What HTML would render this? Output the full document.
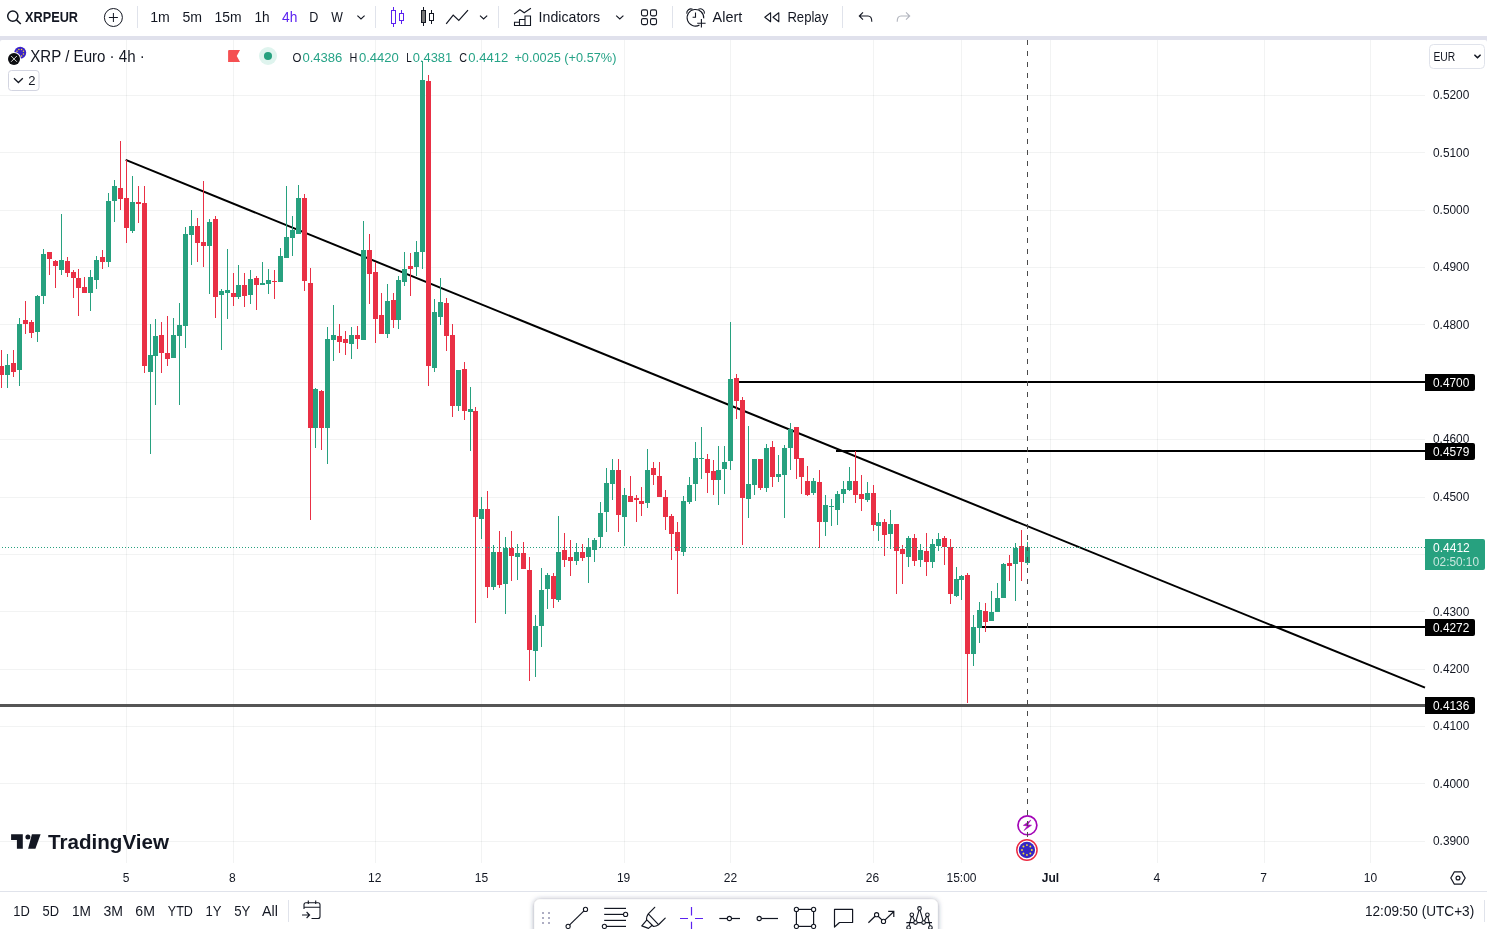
<!DOCTYPE html>
<html lang="en"><head><meta charset="utf-8"><title>XRPEUR chart</title>
<style>
html,body{margin:0;padding:0;background:#fff;}
body{width:1487px;height:929px;overflow:hidden;position:relative;font-family:"Liberation Sans", sans-serif;}
svg{position:absolute;left:0;top:0;display:block;font-family:"Liberation Sans", sans-serif;}
text{white-space:pre;}
</style></head><body>
<svg width="1487" height="929" viewBox="0 0 1487 929">
<g shape-rendering="crispEdges">
<rect x="126" y="40" width="1" height="823" fill="rgba(42,46,57,0.06)"/>
<rect x="233" y="40" width="1" height="823" fill="rgba(42,46,57,0.06)"/>
<rect x="375" y="40" width="1" height="823" fill="rgba(42,46,57,0.06)"/>
<rect x="481" y="40" width="1" height="823" fill="rgba(42,46,57,0.06)"/>
<rect x="624" y="40" width="1" height="823" fill="rgba(42,46,57,0.06)"/>
<rect x="730" y="40" width="1" height="823" fill="rgba(42,46,57,0.06)"/>
<rect x="873" y="40" width="1" height="823" fill="rgba(42,46,57,0.06)"/>
<rect x="961" y="40" width="1" height="823" fill="rgba(42,46,57,0.06)"/>
<rect x="1050" y="40" width="1" height="823" fill="rgba(42,46,57,0.06)"/>
<rect x="1157" y="40" width="1" height="823" fill="rgba(42,46,57,0.06)"/>
<rect x="1264" y="40" width="1" height="823" fill="rgba(42,46,57,0.06)"/>
<rect x="1370" y="40" width="1" height="823" fill="rgba(42,46,57,0.06)"/>
<rect x="0" y="95" width="1425" height="1" fill="rgba(42,46,57,0.06)"/>
<rect x="0" y="152" width="1425" height="1" fill="rgba(42,46,57,0.06)"/>
<rect x="0" y="210" width="1425" height="1" fill="rgba(42,46,57,0.06)"/>
<rect x="0" y="267" width="1425" height="1" fill="rgba(42,46,57,0.06)"/>
<rect x="0" y="324" width="1425" height="1" fill="rgba(42,46,57,0.06)"/>
<rect x="0" y="382" width="1425" height="1" fill="rgba(42,46,57,0.06)"/>
<rect x="0" y="439" width="1425" height="1" fill="rgba(42,46,57,0.06)"/>
<rect x="0" y="497" width="1425" height="1" fill="rgba(42,46,57,0.06)"/>
<rect x="0" y="554" width="1425" height="1" fill="rgba(42,46,57,0.06)"/>
<rect x="0" y="611" width="1425" height="1" fill="rgba(42,46,57,0.06)"/>
<rect x="0" y="669" width="1425" height="1" fill="rgba(42,46,57,0.06)"/>
<rect x="0" y="726" width="1425" height="1" fill="rgba(42,46,57,0.06)"/>
<rect x="0" y="783" width="1425" height="1" fill="rgba(42,46,57,0.06)"/>
<rect x="0" y="841" width="1425" height="1" fill="rgba(42,46,57,0.06)"/>
</g>
<g shape-rendering="crispEdges">
<rect x="0" y="704" width="1425" height="3" fill="#555555"/>
</g>
<g shape-rendering="crispEdges" fill="#000">
<rect x="739" y="381" width="686" height="2"/>
<rect x="836" y="450" width="589" height="2"/>
<rect x="981" y="626" width="444" height="2"/>
</g>
<line x1="125.7" y1="159.9" x2="1425" y2="687.6" stroke="#000" stroke-width="2"/>
<g shape-rendering="crispEdges">
<rect x="1" y="350" width="1" height="38" fill="#e93045"/>
<rect x="-1" y="366" width="5" height="9" fill="#e93045"/>
<rect x="7" y="354" width="1" height="34" fill="#27a17f"/>
<rect x="5" y="365" width="5" height="10" fill="#27a17f"/>
<rect x="13" y="350" width="1" height="27" fill="#e93045"/>
<rect x="11" y="363" width="5" height="9" fill="#e93045"/>
<rect x="19" y="318" width="1" height="68" fill="#27a17f"/>
<rect x="17" y="324" width="5" height="46" fill="#27a17f"/>
<rect x="25" y="301" width="1" height="33" fill="#e93045"/>
<rect x="23" y="320" width="5" height="4" fill="#e93045"/>
<rect x="31" y="320" width="1" height="18" fill="#e93045"/>
<rect x="29" y="322" width="5" height="11" fill="#e93045"/>
<rect x="37" y="295" width="1" height="47" fill="#27a17f"/>
<rect x="35" y="296" width="5" height="36" fill="#27a17f"/>
<rect x="43" y="249" width="1" height="55" fill="#27a17f"/>
<rect x="41" y="254" width="5" height="42" fill="#27a17f"/>
<rect x="49" y="252" width="1" height="23" fill="#e93045"/>
<rect x="47" y="252" width="5" height="7" fill="#e93045"/>
<rect x="55" y="260" width="1" height="28" fill="#e93045"/>
<rect x="53" y="261" width="5" height="5" fill="#e93045"/>
<rect x="61" y="214" width="1" height="61" fill="#27a17f"/>
<rect x="59" y="260" width="5" height="10" fill="#27a17f"/>
<rect x="67" y="257" width="1" height="20" fill="#e93045"/>
<rect x="65" y="261" width="5" height="12" fill="#e93045"/>
<rect x="73" y="270" width="1" height="28" fill="#e93045"/>
<rect x="71" y="272" width="5" height="6" fill="#e93045"/>
<rect x="78" y="269" width="1" height="47" fill="#e93045"/>
<rect x="76" y="278" width="5" height="10" fill="#e93045"/>
<rect x="84" y="277" width="1" height="16" fill="#e93045"/>
<rect x="82" y="287" width="5" height="6" fill="#e93045"/>
<rect x="90" y="270" width="1" height="41" fill="#27a17f"/>
<rect x="88" y="277" width="5" height="16" fill="#27a17f"/>
<rect x="96" y="256" width="1" height="33" fill="#27a17f"/>
<rect x="94" y="260" width="5" height="20" fill="#27a17f"/>
<rect x="102" y="250" width="1" height="19" fill="#e93045"/>
<rect x="100" y="257" width="5" height="5" fill="#e93045"/>
<rect x="108" y="193" width="1" height="74" fill="#27a17f"/>
<rect x="106" y="201" width="5" height="61" fill="#27a17f"/>
<rect x="114" y="180" width="1" height="42" fill="#27a17f"/>
<rect x="112" y="186" width="5" height="15" fill="#27a17f"/>
<rect x="120" y="141" width="1" height="69" fill="#e93045"/>
<rect x="118" y="188" width="5" height="11" fill="#e93045"/>
<rect x="126" y="160" width="1" height="83" fill="#e93045"/>
<rect x="124" y="198" width="5" height="30" fill="#e93045"/>
<rect x="132" y="176" width="1" height="57" fill="#27a17f"/>
<rect x="130" y="202" width="5" height="29" fill="#27a17f"/>
<rect x="138" y="186" width="1" height="37" fill="#e93045"/>
<rect x="136" y="202" width="5" height="2" fill="#e93045"/>
<rect x="144" y="186" width="1" height="187" fill="#e93045"/>
<rect x="142" y="203" width="5" height="163" fill="#e93045"/>
<rect x="150" y="324" width="1" height="130" fill="#27a17f"/>
<rect x="148" y="355" width="5" height="17" fill="#27a17f"/>
<rect x="155" y="319" width="1" height="86" fill="#27a17f"/>
<rect x="153" y="336" width="5" height="20" fill="#27a17f"/>
<rect x="161" y="322" width="1" height="51" fill="#e93045"/>
<rect x="159" y="335" width="5" height="18" fill="#e93045"/>
<rect x="167" y="316" width="1" height="50" fill="#e93045"/>
<rect x="165" y="353" width="5" height="6" fill="#e93045"/>
<rect x="173" y="318" width="1" height="40" fill="#27a17f"/>
<rect x="171" y="335" width="5" height="23" fill="#27a17f"/>
<rect x="179" y="303" width="1" height="102" fill="#27a17f"/>
<rect x="177" y="325" width="5" height="11" fill="#27a17f"/>
<rect x="185" y="227" width="1" height="121" fill="#27a17f"/>
<rect x="183" y="234" width="5" height="92" fill="#27a17f"/>
<rect x="191" y="210" width="1" height="55" fill="#27a17f"/>
<rect x="189" y="226" width="5" height="9" fill="#27a17f"/>
<rect x="197" y="218" width="1" height="44" fill="#e93045"/>
<rect x="195" y="226" width="5" height="17" fill="#e93045"/>
<rect x="203" y="181" width="1" height="86" fill="#e93045"/>
<rect x="201" y="242" width="5" height="4" fill="#e93045"/>
<rect x="209" y="219" width="1" height="75" fill="#27a17f"/>
<rect x="207" y="222" width="5" height="24" fill="#27a17f"/>
<rect x="215" y="216" width="1" height="102" fill="#e93045"/>
<rect x="213" y="219" width="5" height="78" fill="#e93045"/>
<rect x="221" y="289" width="1" height="61" fill="#27a17f"/>
<rect x="219" y="291" width="5" height="4" fill="#27a17f"/>
<rect x="227" y="249" width="1" height="70" fill="#27a17f"/>
<rect x="225" y="290" width="5" height="3" fill="#27a17f"/>
<rect x="233" y="273" width="1" height="33" fill="#e93045"/>
<rect x="231" y="293" width="5" height="4" fill="#e93045"/>
<rect x="238" y="265" width="1" height="34" fill="#27a17f"/>
<rect x="236" y="285" width="5" height="12" fill="#27a17f"/>
<rect x="244" y="273" width="1" height="34" fill="#e93045"/>
<rect x="242" y="285" width="5" height="11" fill="#e93045"/>
<rect x="250" y="270" width="1" height="34" fill="#27a17f"/>
<rect x="248" y="279" width="5" height="16" fill="#27a17f"/>
<rect x="256" y="276" width="1" height="34" fill="#e93045"/>
<rect x="254" y="278" width="5" height="7" fill="#e93045"/>
<rect x="262" y="262" width="1" height="23" fill="#27a17f"/>
<rect x="260" y="283" width="5" height="2" fill="#27a17f"/>
<rect x="268" y="269" width="1" height="25" fill="#27a17f"/>
<rect x="266" y="280" width="5" height="4" fill="#27a17f"/>
<rect x="274" y="270" width="1" height="29" fill="#e93045"/>
<rect x="272" y="281" width="5" height="1" fill="#e93045"/>
<rect x="280" y="248" width="1" height="34" fill="#27a17f"/>
<rect x="278" y="256" width="5" height="26" fill="#27a17f"/>
<rect x="286" y="186" width="1" height="72" fill="#27a17f"/>
<rect x="284" y="237" width="5" height="21" fill="#27a17f"/>
<rect x="292" y="216" width="1" height="40" fill="#27a17f"/>
<rect x="290" y="230" width="5" height="8" fill="#27a17f"/>
<rect x="298" y="185" width="1" height="49" fill="#27a17f"/>
<rect x="296" y="198" width="5" height="36" fill="#27a17f"/>
<rect x="304" y="194" width="1" height="97" fill="#e93045"/>
<rect x="302" y="198" width="5" height="83" fill="#e93045"/>
<rect x="310" y="268" width="1" height="252" fill="#e93045"/>
<rect x="308" y="283" width="5" height="145" fill="#e93045"/>
<rect x="315" y="388" width="1" height="60" fill="#27a17f"/>
<rect x="313" y="389" width="5" height="39" fill="#27a17f"/>
<rect x="321" y="390" width="1" height="60" fill="#e93045"/>
<rect x="319" y="391" width="5" height="37" fill="#e93045"/>
<rect x="327" y="327" width="1" height="137" fill="#27a17f"/>
<rect x="325" y="339" width="5" height="89" fill="#27a17f"/>
<rect x="333" y="305" width="1" height="56" fill="#27a17f"/>
<rect x="331" y="335" width="5" height="5" fill="#27a17f"/>
<rect x="339" y="324" width="1" height="29" fill="#e93045"/>
<rect x="337" y="336" width="5" height="6" fill="#e93045"/>
<rect x="345" y="331" width="1" height="24" fill="#e93045"/>
<rect x="343" y="339" width="5" height="4" fill="#e93045"/>
<rect x="351" y="327" width="1" height="32" fill="#27a17f"/>
<rect x="349" y="335" width="5" height="9" fill="#27a17f"/>
<rect x="357" y="326" width="1" height="23" fill="#e93045"/>
<rect x="355" y="335" width="5" height="4" fill="#e93045"/>
<rect x="363" y="221" width="1" height="119" fill="#27a17f"/>
<rect x="361" y="250" width="5" height="90" fill="#27a17f"/>
<rect x="369" y="234" width="1" height="70" fill="#e93045"/>
<rect x="367" y="250" width="5" height="24" fill="#e93045"/>
<rect x="375" y="262" width="1" height="81" fill="#e93045"/>
<rect x="373" y="272" width="5" height="47" fill="#e93045"/>
<rect x="381" y="293" width="1" height="41" fill="#e93045"/>
<rect x="379" y="315" width="5" height="19" fill="#e93045"/>
<rect x="387" y="284" width="1" height="54" fill="#27a17f"/>
<rect x="385" y="301" width="5" height="33" fill="#27a17f"/>
<rect x="393" y="293" width="1" height="35" fill="#e93045"/>
<rect x="391" y="300" width="5" height="20" fill="#e93045"/>
<rect x="398" y="276" width="1" height="53" fill="#27a17f"/>
<rect x="396" y="280" width="5" height="40" fill="#27a17f"/>
<rect x="404" y="252" width="1" height="34" fill="#27a17f"/>
<rect x="402" y="269" width="5" height="13" fill="#27a17f"/>
<rect x="410" y="253" width="1" height="43" fill="#e93045"/>
<rect x="408" y="266" width="5" height="3" fill="#e93045"/>
<rect x="416" y="241" width="1" height="35" fill="#27a17f"/>
<rect x="414" y="252" width="5" height="15" fill="#27a17f"/>
<rect x="422" y="61" width="1" height="208" fill="#27a17f"/>
<rect x="420" y="80" width="5" height="172" fill="#27a17f"/>
<rect x="428" y="75" width="1" height="311" fill="#e93045"/>
<rect x="426" y="81" width="5" height="285" fill="#e93045"/>
<rect x="434" y="299" width="1" height="73" fill="#27a17f"/>
<rect x="432" y="312" width="5" height="56" fill="#27a17f"/>
<rect x="440" y="278" width="1" height="47" fill="#27a17f"/>
<rect x="438" y="302" width="5" height="15" fill="#27a17f"/>
<rect x="446" y="298" width="1" height="53" fill="#e93045"/>
<rect x="444" y="303" width="5" height="33" fill="#e93045"/>
<rect x="452" y="324" width="1" height="93" fill="#e93045"/>
<rect x="450" y="335" width="5" height="71" fill="#e93045"/>
<rect x="458" y="370" width="1" height="41" fill="#27a17f"/>
<rect x="456" y="370" width="5" height="36" fill="#27a17f"/>
<rect x="464" y="362" width="1" height="58" fill="#e93045"/>
<rect x="462" y="369" width="5" height="42" fill="#e93045"/>
<rect x="470" y="387" width="1" height="64" fill="#27a17f"/>
<rect x="468" y="409" width="5" height="3" fill="#27a17f"/>
<rect x="475" y="407" width="1" height="216" fill="#e93045"/>
<rect x="473" y="411" width="5" height="106" fill="#e93045"/>
<rect x="481" y="497" width="1" height="42" fill="#27a17f"/>
<rect x="479" y="509" width="5" height="10" fill="#27a17f"/>
<rect x="487" y="491" width="1" height="107" fill="#e93045"/>
<rect x="485" y="509" width="5" height="78" fill="#e93045"/>
<rect x="493" y="545" width="1" height="45" fill="#27a17f"/>
<rect x="491" y="552" width="5" height="35" fill="#27a17f"/>
<rect x="499" y="531" width="1" height="57" fill="#e93045"/>
<rect x="497" y="552" width="5" height="33" fill="#e93045"/>
<rect x="505" y="537" width="1" height="77" fill="#27a17f"/>
<rect x="503" y="548" width="5" height="36" fill="#27a17f"/>
<rect x="511" y="531" width="1" height="50" fill="#e93045"/>
<rect x="509" y="548" width="5" height="8" fill="#e93045"/>
<rect x="517" y="544" width="1" height="36" fill="#27a17f"/>
<rect x="515" y="553" width="5" height="4" fill="#27a17f"/>
<rect x="523" y="542" width="1" height="27" fill="#e93045"/>
<rect x="521" y="553" width="5" height="16" fill="#e93045"/>
<rect x="529" y="557" width="1" height="124" fill="#e93045"/>
<rect x="527" y="570" width="5" height="80" fill="#e93045"/>
<rect x="535" y="615" width="1" height="62" fill="#27a17f"/>
<rect x="533" y="626" width="5" height="25" fill="#27a17f"/>
<rect x="541" y="568" width="1" height="79" fill="#27a17f"/>
<rect x="539" y="590" width="5" height="36" fill="#27a17f"/>
<rect x="547" y="573" width="1" height="36" fill="#27a17f"/>
<rect x="545" y="575" width="5" height="14" fill="#27a17f"/>
<rect x="553" y="573" width="1" height="35" fill="#e93045"/>
<rect x="551" y="576" width="5" height="23" fill="#e93045"/>
<rect x="558" y="516" width="1" height="86" fill="#27a17f"/>
<rect x="556" y="552" width="5" height="48" fill="#27a17f"/>
<rect x="564" y="533" width="1" height="34" fill="#e93045"/>
<rect x="562" y="550" width="5" height="10" fill="#e93045"/>
<rect x="570" y="540" width="1" height="36" fill="#e93045"/>
<rect x="568" y="557" width="5" height="4" fill="#e93045"/>
<rect x="576" y="543" width="1" height="22" fill="#27a17f"/>
<rect x="574" y="552" width="5" height="9" fill="#27a17f"/>
<rect x="582" y="544" width="1" height="17" fill="#e93045"/>
<rect x="580" y="552" width="5" height="6" fill="#e93045"/>
<rect x="588" y="538" width="1" height="45" fill="#27a17f"/>
<rect x="586" y="547" width="5" height="10" fill="#27a17f"/>
<rect x="594" y="538" width="1" height="24" fill="#27a17f"/>
<rect x="592" y="540" width="5" height="10" fill="#27a17f"/>
<rect x="600" y="502" width="1" height="46" fill="#27a17f"/>
<rect x="598" y="513" width="5" height="24" fill="#27a17f"/>
<rect x="606" y="468" width="1" height="64" fill="#27a17f"/>
<rect x="604" y="483" width="5" height="29" fill="#27a17f"/>
<rect x="612" y="459" width="1" height="41" fill="#27a17f"/>
<rect x="610" y="470" width="5" height="14" fill="#27a17f"/>
<rect x="618" y="459" width="1" height="73" fill="#e93045"/>
<rect x="616" y="470" width="5" height="45" fill="#e93045"/>
<rect x="624" y="488" width="1" height="58" fill="#27a17f"/>
<rect x="622" y="495" width="5" height="22" fill="#27a17f"/>
<rect x="630" y="476" width="1" height="26" fill="#e93045"/>
<rect x="628" y="496" width="5" height="6" fill="#e93045"/>
<rect x="636" y="495" width="1" height="27" fill="#e93045"/>
<rect x="634" y="498" width="5" height="2" fill="#e93045"/>
<rect x="641" y="487" width="1" height="29" fill="#e93045"/>
<rect x="639" y="501" width="5" height="3" fill="#e93045"/>
<rect x="647" y="449" width="1" height="59" fill="#27a17f"/>
<rect x="645" y="470" width="5" height="33" fill="#27a17f"/>
<rect x="653" y="462" width="1" height="23" fill="#e93045"/>
<rect x="651" y="468" width="5" height="7" fill="#e93045"/>
<rect x="659" y="462" width="1" height="35" fill="#e93045"/>
<rect x="657" y="476" width="5" height="21" fill="#e93045"/>
<rect x="665" y="490" width="1" height="40" fill="#e93045"/>
<rect x="663" y="497" width="5" height="20" fill="#e93045"/>
<rect x="671" y="514" width="1" height="46" fill="#e93045"/>
<rect x="669" y="516" width="5" height="18" fill="#e93045"/>
<rect x="677" y="522" width="1" height="72" fill="#e93045"/>
<rect x="675" y="532" width="5" height="19" fill="#e93045"/>
<rect x="683" y="496" width="1" height="60" fill="#27a17f"/>
<rect x="681" y="501" width="5" height="51" fill="#27a17f"/>
<rect x="689" y="477" width="1" height="27" fill="#27a17f"/>
<rect x="687" y="485" width="5" height="17" fill="#27a17f"/>
<rect x="695" y="442" width="1" height="59" fill="#27a17f"/>
<rect x="693" y="458" width="5" height="26" fill="#27a17f"/>
<rect x="701" y="427" width="1" height="52" fill="#27a17f"/>
<rect x="699" y="458" width="5" height="1" fill="#27a17f"/>
<rect x="707" y="454" width="1" height="39" fill="#e93045"/>
<rect x="705" y="459" width="5" height="14" fill="#e93045"/>
<rect x="713" y="460" width="1" height="35" fill="#e93045"/>
<rect x="711" y="471" width="5" height="9" fill="#e93045"/>
<rect x="718" y="446" width="1" height="59" fill="#27a17f"/>
<rect x="716" y="470" width="5" height="10" fill="#27a17f"/>
<rect x="724" y="446" width="1" height="48" fill="#27a17f"/>
<rect x="722" y="462" width="5" height="7" fill="#27a17f"/>
<rect x="730" y="322" width="1" height="148" fill="#27a17f"/>
<rect x="728" y="379" width="5" height="82" fill="#27a17f"/>
<rect x="736" y="374" width="1" height="45" fill="#e93045"/>
<rect x="734" y="378" width="5" height="23" fill="#e93045"/>
<rect x="742" y="397" width="1" height="148" fill="#e93045"/>
<rect x="740" y="400" width="5" height="98" fill="#e93045"/>
<rect x="748" y="426" width="1" height="92" fill="#27a17f"/>
<rect x="746" y="484" width="5" height="15" fill="#27a17f"/>
<rect x="754" y="459" width="1" height="36" fill="#27a17f"/>
<rect x="752" y="459" width="5" height="26" fill="#27a17f"/>
<rect x="760" y="459" width="1" height="31" fill="#e93045"/>
<rect x="758" y="459" width="5" height="29" fill="#e93045"/>
<rect x="766" y="444" width="1" height="48" fill="#27a17f"/>
<rect x="764" y="448" width="5" height="40" fill="#27a17f"/>
<rect x="772" y="441" width="1" height="46" fill="#e93045"/>
<rect x="770" y="447" width="5" height="30" fill="#e93045"/>
<rect x="778" y="455" width="1" height="27" fill="#27a17f"/>
<rect x="776" y="474" width="5" height="3" fill="#27a17f"/>
<rect x="784" y="445" width="1" height="73" fill="#27a17f"/>
<rect x="782" y="448" width="5" height="27" fill="#27a17f"/>
<rect x="790" y="423" width="1" height="47" fill="#27a17f"/>
<rect x="788" y="429" width="5" height="19" fill="#27a17f"/>
<rect x="796" y="427" width="1" height="52" fill="#e93045"/>
<rect x="794" y="427" width="5" height="32" fill="#e93045"/>
<rect x="801" y="458" width="1" height="36" fill="#e93045"/>
<rect x="799" y="458" width="5" height="19" fill="#e93045"/>
<rect x="807" y="466" width="1" height="30" fill="#e93045"/>
<rect x="805" y="481" width="5" height="14" fill="#e93045"/>
<rect x="813" y="478" width="1" height="17" fill="#27a17f"/>
<rect x="811" y="481" width="5" height="12" fill="#27a17f"/>
<rect x="819" y="470" width="1" height="78" fill="#e93045"/>
<rect x="817" y="482" width="5" height="40" fill="#e93045"/>
<rect x="825" y="495" width="1" height="41" fill="#27a17f"/>
<rect x="823" y="505" width="5" height="17" fill="#27a17f"/>
<rect x="831" y="499" width="1" height="27" fill="#27a17f"/>
<rect x="829" y="506" width="5" height="1" fill="#27a17f"/>
<rect x="837" y="491" width="1" height="34" fill="#27a17f"/>
<rect x="835" y="494" width="5" height="16" fill="#27a17f"/>
<rect x="843" y="481" width="1" height="22" fill="#27a17f"/>
<rect x="841" y="489" width="5" height="5" fill="#27a17f"/>
<rect x="849" y="467" width="1" height="24" fill="#27a17f"/>
<rect x="847" y="481" width="5" height="9" fill="#27a17f"/>
<rect x="855" y="451" width="1" height="52" fill="#e93045"/>
<rect x="853" y="481" width="5" height="14" fill="#e93045"/>
<rect x="861" y="475" width="1" height="36" fill="#e93045"/>
<rect x="859" y="494" width="5" height="5" fill="#e93045"/>
<rect x="867" y="482" width="1" height="20" fill="#27a17f"/>
<rect x="865" y="493" width="5" height="7" fill="#27a17f"/>
<rect x="873" y="485" width="1" height="46" fill="#e93045"/>
<rect x="871" y="493" width="5" height="32" fill="#e93045"/>
<rect x="878" y="513" width="1" height="28" fill="#27a17f"/>
<rect x="876" y="522" width="5" height="4" fill="#27a17f"/>
<rect x="884" y="519" width="1" height="37" fill="#e93045"/>
<rect x="882" y="522" width="5" height="13" fill="#e93045"/>
<rect x="890" y="510" width="1" height="39" fill="#27a17f"/>
<rect x="888" y="524" width="5" height="10" fill="#27a17f"/>
<rect x="896" y="524" width="1" height="70" fill="#e93045"/>
<rect x="894" y="524" width="5" height="27" fill="#e93045"/>
<rect x="902" y="545" width="1" height="39" fill="#e93045"/>
<rect x="900" y="549" width="5" height="5" fill="#e93045"/>
<rect x="908" y="536" width="1" height="31" fill="#27a17f"/>
<rect x="906" y="538" width="5" height="19" fill="#27a17f"/>
<rect x="914" y="534" width="1" height="32" fill="#e93045"/>
<rect x="912" y="538" width="5" height="23" fill="#e93045"/>
<rect x="920" y="544" width="1" height="23" fill="#27a17f"/>
<rect x="918" y="550" width="5" height="10" fill="#27a17f"/>
<rect x="926" y="533" width="1" height="43" fill="#e93045"/>
<rect x="924" y="551" width="5" height="11" fill="#e93045"/>
<rect x="932" y="539" width="1" height="29" fill="#27a17f"/>
<rect x="930" y="544" width="5" height="18" fill="#27a17f"/>
<rect x="938" y="533" width="1" height="18" fill="#27a17f"/>
<rect x="936" y="539" width="5" height="7" fill="#27a17f"/>
<rect x="944" y="536" width="1" height="29" fill="#e93045"/>
<rect x="942" y="538" width="5" height="9" fill="#e93045"/>
<rect x="950" y="539" width="1" height="65" fill="#e93045"/>
<rect x="948" y="547" width="5" height="47" fill="#e93045"/>
<rect x="956" y="567" width="1" height="30" fill="#27a17f"/>
<rect x="954" y="579" width="5" height="17" fill="#27a17f"/>
<rect x="961" y="575" width="1" height="25" fill="#27a17f"/>
<rect x="959" y="576" width="5" height="4" fill="#27a17f"/>
<rect x="967" y="573" width="1" height="130" fill="#e93045"/>
<rect x="965" y="575" width="5" height="79" fill="#e93045"/>
<rect x="973" y="615" width="1" height="51" fill="#27a17f"/>
<rect x="971" y="627" width="5" height="27" fill="#27a17f"/>
<rect x="979" y="602" width="1" height="41" fill="#27a17f"/>
<rect x="977" y="610" width="5" height="18" fill="#27a17f"/>
<rect x="985" y="603" width="1" height="29" fill="#e93045"/>
<rect x="983" y="611" width="5" height="11" fill="#e93045"/>
<rect x="991" y="591" width="1" height="30" fill="#27a17f"/>
<rect x="989" y="612" width="5" height="9" fill="#27a17f"/>
<rect x="997" y="583" width="1" height="29" fill="#27a17f"/>
<rect x="995" y="598" width="5" height="14" fill="#27a17f"/>
<rect x="1003" y="563" width="1" height="35" fill="#27a17f"/>
<rect x="1001" y="564" width="5" height="34" fill="#27a17f"/>
<rect x="1009" y="555" width="1" height="26" fill="#e93045"/>
<rect x="1007" y="563" width="5" height="3" fill="#e93045"/>
<rect x="1015" y="543" width="1" height="58" fill="#27a17f"/>
<rect x="1013" y="548" width="5" height="16" fill="#27a17f"/>
<rect x="1021" y="530" width="1" height="51" fill="#e93045"/>
<rect x="1019" y="546" width="5" height="16" fill="#e93045"/>
<rect x="1027" y="542" width="1" height="23" fill="#27a17f"/>
<rect x="1025" y="547" width="5" height="16" fill="#27a17f"/>
</g>
<line x1="2" y1="547.5" x2="1425" y2="547.5" stroke="#27a17f" stroke-width="1" stroke-dasharray="1 2" shape-rendering="crispEdges"/>
<circle cx="1027.4" cy="825.3" r="9.45" fill="none" stroke="#a305b7" stroke-width="1.7"/>
<path d="M1030.9 820 L1023.3 825.4 L1027.3 825.9 L1024 830.5 L1031.6 825.2 L1027.7 824.7 Z" fill="#a305b7" stroke="#a305b7" stroke-width="0.5" stroke-linejoin="round"/>
<line x1="1027.5" y1="40" x2="1027.5" y2="863" stroke="#4a4a4a" stroke-width="1" stroke-dasharray="5 6" shape-rendering="crispEdges"/>
<circle cx="1026.9" cy="850" r="10.15" fill="#fff" stroke="#ec2a42" stroke-width="1.5"/>
<circle cx="1026.9" cy="850" r="8.15" fill="#3525c3"/>
<circle cx="1026.90" cy="854.90" r="0.95" fill="#f5e02a"/>
<circle cx="1023.44" cy="853.46" r="0.95" fill="#f5e02a"/>
<circle cx="1022.00" cy="850.00" r="0.95" fill="#f5e02a"/>
<circle cx="1023.44" cy="846.54" r="0.95" fill="#f5e02a"/>
<circle cx="1026.90" cy="845.10" r="0.95" fill="#f5e02a"/>
<circle cx="1030.36" cy="846.54" r="0.95" fill="#f5e02a"/>
<circle cx="1031.80" cy="850.00" r="0.95" fill="#f5e02a"/>
<circle cx="1030.36" cy="853.46" r="0.95" fill="#f5e02a"/>
<text x="1433" y="99.1" font-size="12" fill="#131722" textLength="36.3" lengthAdjust="spacingAndGlyphs">0.5200</text>
<text x="1433" y="156.5" font-size="12" fill="#131722" textLength="36.3" lengthAdjust="spacingAndGlyphs">0.5100</text>
<text x="1433" y="213.9" font-size="12" fill="#131722" textLength="36.3" lengthAdjust="spacingAndGlyphs">0.5000</text>
<text x="1433" y="271.3" font-size="12" fill="#131722" textLength="36.3" lengthAdjust="spacingAndGlyphs">0.4900</text>
<text x="1433" y="328.7" font-size="12" fill="#131722" textLength="36.3" lengthAdjust="spacingAndGlyphs">0.4800</text>
<text x="1433" y="386.1" font-size="12" fill="#131722" textLength="36.3" lengthAdjust="spacingAndGlyphs">0.4700</text>
<text x="1433" y="443.4" font-size="12" fill="#131722" textLength="36.3" lengthAdjust="spacingAndGlyphs">0.4600</text>
<text x="1433" y="500.8" font-size="12" fill="#131722" textLength="36.3" lengthAdjust="spacingAndGlyphs">0.4500</text>
<text x="1433" y="558.2" font-size="12" fill="#131722" textLength="36.3" lengthAdjust="spacingAndGlyphs">0.4400</text>
<text x="1433" y="615.6" font-size="12" fill="#131722" textLength="36.3" lengthAdjust="spacingAndGlyphs">0.4300</text>
<text x="1433" y="673.0" font-size="12" fill="#131722" textLength="36.3" lengthAdjust="spacingAndGlyphs">0.4200</text>
<text x="1433" y="730.4" font-size="12" fill="#131722" textLength="36.3" lengthAdjust="spacingAndGlyphs">0.4100</text>
<text x="1433" y="787.8" font-size="12" fill="#131722" textLength="36.3" lengthAdjust="spacingAndGlyphs">0.4000</text>
<text x="1433" y="845.1" font-size="12" fill="#131722" textLength="36.3" lengthAdjust="spacingAndGlyphs">0.3900</text>
<path d="M1425 374 H1473 a2 2 0 0 1 2 2 V389 a2 2 0 0 1 -2 2 H1425 Z" fill="#000"/>
<text x="1433" y="386.7" font-size="12" fill="#fff" textLength="36.3" lengthAdjust="spacingAndGlyphs">0.4700</text>
<path d="M1425 443 H1473 a2 2 0 0 1 2 2 V458 a2 2 0 0 1 -2 2 H1425 Z" fill="#000"/>
<text x="1433" y="455.7" font-size="12" fill="#fff" textLength="36.3" lengthAdjust="spacingAndGlyphs">0.4579</text>
<path d="M1425 619 H1473 a2 2 0 0 1 2 2 V634 a2 2 0 0 1 -2 2 H1425 Z" fill="#000"/>
<text x="1433" y="631.7" font-size="12" fill="#fff" textLength="36.3" lengthAdjust="spacingAndGlyphs">0.4272</text>
<path d="M1425 697 H1473 a2 2 0 0 1 2 2 V712 a2 2 0 0 1 -2 2 H1425 Z" fill="#000"/>
<text x="1433" y="709.7" font-size="12" fill="#fff" textLength="36.3" lengthAdjust="spacingAndGlyphs">0.4136</text>
<path d="M1425 539 H1483 a2 2 0 0 1 2 2 V568 a2 2 0 0 1 -2 2 H1425 Z" fill="#27a17f"/>
<text x="1433" y="551.8" font-size="12" fill="#fff" textLength="36.8" lengthAdjust="spacingAndGlyphs">0.4412</text>
<text x="1433" y="565.9" font-size="12" fill="rgba(255,255,255,0.75)" textLength="46" lengthAdjust="spacingAndGlyphs">02:50:10</text>
<rect x="1429.5" y="44.5" width="55" height="24" rx="4" fill="#fff" stroke="#e0e3eb"/>
<text x="1433.4" y="61" font-size="12.5" fill="#131722" textLength="21.8" lengthAdjust="spacingAndGlyphs">EUR</text>
<path d="M1474.9 55.2 l2.6 2.6 l2.6 -2.6" fill="none" stroke="#131722" stroke-width="1.6" stroke-linecap="round" stroke-linejoin="round"/>
<text x="126.2" y="882" font-size="12" fill="#131722" text-anchor="middle">5</text>
<text x="232.3" y="882" font-size="12" fill="#131722" text-anchor="middle">8</text>
<text x="374.8" y="882" font-size="12" fill="#131722" text-anchor="middle">12</text>
<text x="481.5" y="882" font-size="12" fill="#131722" text-anchor="middle">15</text>
<text x="623.6" y="882" font-size="12" fill="#131722" text-anchor="middle">19</text>
<text x="730.5" y="882" font-size="12" fill="#131722" text-anchor="middle">22</text>
<text x="872.4" y="882" font-size="12" fill="#131722" text-anchor="middle">26</text>
<text x="961.5" y="882" font-size="12" fill="#131722" text-anchor="middle">15:00</text>
<text x="1050.5" y="882" font-size="12" fill="#131722" font-weight="bold" text-anchor="middle">Jul</text>
<text x="1156.9" y="882" font-size="12" fill="#131722" text-anchor="middle">4</text>
<text x="1263.6" y="882" font-size="12" fill="#131722" text-anchor="middle">7</text>
<text x="1370.4" y="882" font-size="12" fill="#131722" text-anchor="middle">10</text>
<path d="M1450.8 878 L1454.4 871.8 H1461.6 L1465.2 878 L1461.6 884.2 H1454.4 Z" fill="none" stroke="#131722" stroke-width="1.25" stroke-linejoin="round"/>
<circle cx="1458" cy="878" r="1.95" fill="none" stroke="#131722" stroke-width="1.2"/>
<circle cx="20.2" cy="52.7" r="6" fill="#3a22c8"/>
<circle cx="23.43" cy="54.04" r="0.75" fill="#f5e02a"/>
<circle cx="21.54" cy="55.93" r="0.75" fill="#f5e02a"/>
<circle cx="18.86" cy="55.93" r="0.75" fill="#f5e02a"/>
<circle cx="16.97" cy="54.04" r="0.75" fill="#f5e02a"/>
<circle cx="16.97" cy="51.36" r="0.75" fill="#f5e02a"/>
<circle cx="18.86" cy="49.47" r="0.75" fill="#f5e02a"/>
<circle cx="21.54" cy="49.47" r="0.75" fill="#f5e02a"/>
<circle cx="23.43" cy="51.36" r="0.75" fill="#f5e02a"/>
<circle cx="14" cy="58.9" r="7" fill="#fff"/>
<circle cx="14" cy="58.9" r="6" fill="#0d0e12"/>
<path d="M11.1 56 L16.9 61.8 M16.9 56 L11.1 61.8" stroke="#e8e8e8" stroke-width="0.9" fill="none"/>
<text x="30.3" y="61.7" font-size="16" fill="#131722" textLength="114.5" lengthAdjust="spacingAndGlyphs">XRP / Euro · 4h ·</text>
<path d="M229.1 50.1 H240.05 L236.75 56.05 L240.05 62 H228.1 V51.1 a1 1 0 0 1 1 -1 Z" fill="#f55052"/>
<circle cx="268" cy="56" r="9" fill="#dff4ee"/>
<circle cx="268" cy="56" r="4.05" fill="#27a17f"/>
<text x="292.6" y="62" font-size="13" fill="#131722" textLength="8.9" lengthAdjust="spacingAndGlyphs">O</text>
<text x="302.4" y="62" font-size="13" fill="#26a387" textLength="40" lengthAdjust="spacingAndGlyphs">0.4386</text>
<text x="349.6" y="62" font-size="13" fill="#131722" textLength="7.8" lengthAdjust="spacingAndGlyphs">H</text>
<text x="358.9" y="62" font-size="13" fill="#26a387" textLength="40" lengthAdjust="spacingAndGlyphs">0.4420</text>
<text x="406.2" y="62" font-size="13" fill="#131722" textLength="5.5" lengthAdjust="spacingAndGlyphs">L</text>
<text x="412.7" y="62" font-size="13" fill="#26a387" textLength="39.5" lengthAdjust="spacingAndGlyphs">0.4381</text>
<text x="459.3" y="62" font-size="13" fill="#131722" textLength="7.8" lengthAdjust="spacingAndGlyphs">C</text>
<text x="468.3" y="62" font-size="13" fill="#26a387" textLength="40" lengthAdjust="spacingAndGlyphs">0.4412</text>
<text x="514.4" y="62" font-size="13" fill="#26a387" textLength="102" lengthAdjust="spacingAndGlyphs">+0.0025 (+0.57%)</text>
<rect x="8.5" y="70.5" width="30.5" height="20" rx="3" fill="#fff" stroke="#d3d5e1"/>
<path d="M14 78.2 l4.4 4.3 l4.4 -4.3" fill="none" stroke="#131722" stroke-width="1.3"/>
<text x="28.2" y="85" font-size="13" fill="#131722">2</text>
<rect x="0" y="828" width="176" height="27" fill="#fff" opacity="0"/>
<path d="M11.1 834.3 H22.8 V848.8 H16.9 V840 H11.1 Z" fill="#131722"/>
<circle cx="27.9" cy="836.9" r="2.5" fill="#131722"/>
<path d="M31.9 834.3 H40.6 L35.4 848.8 H28.1 Z" fill="#131722"/>
<text x="48" y="848.8" font-size="20.3" fill="#131722" font-weight="bold" textLength="121" lengthAdjust="spacingAndGlyphs">TradingView</text>
<rect x="0" y="0" width="1487" height="36" fill="#fff"/>
<rect x="0" y="36" width="1487" height="4" fill="#e0e1ec"/><path d="M0 40 H2 A2 2 0 0 0 0 42 Z M1487 40 H1485 A2 2 0 0 1 1487 42 Z" fill="#e0e1ec"/>
<circle cx="12.8" cy="16.1" r="5.1" fill="none" stroke="#131722" stroke-width="1.5"/>
<path d="M16.5 19.9 L20.8 24" fill="none" stroke="#131722" stroke-width="1.5"/>
<text x="25" y="21.9" font-size="14.5" fill="#131722" font-weight="bold" textLength="53" lengthAdjust="spacingAndGlyphs">XRPEUR</text>
<circle cx="113.4" cy="17.5" r="9" fill="none" stroke="#131722" stroke-width="1"/>
<path d="M108.9 17.5 h9 M113.4 13 v9" fill="none" stroke="#131722" stroke-width="1"/>
<rect x="137" y="6" width="1" height="22" fill="#e0e3eb" shape-rendering="crispEdges"/>
<text x="150.2" y="21.9" font-size="14" fill="#131722" textLength="19.6" lengthAdjust="spacingAndGlyphs">1m</text>
<text x="182.5" y="21.9" font-size="14" fill="#131722" textLength="19.6" lengthAdjust="spacingAndGlyphs">5m</text>
<text x="214.6" y="21.9" font-size="14" fill="#131722" textLength="27.1" lengthAdjust="spacingAndGlyphs">15m</text>
<text x="254.4" y="21.9" font-size="14" fill="#131722" textLength="15.2" lengthAdjust="spacingAndGlyphs">1h</text>
<text x="282" y="21.9" font-size="14" fill="#5b22f0" textLength="15.3" lengthAdjust="spacingAndGlyphs">4h</text>
<text x="309.3" y="21.9" font-size="14" fill="#131722" textLength="9.1" lengthAdjust="spacingAndGlyphs">D</text>
<text x="331.2" y="21.9" font-size="14" fill="#131722" textLength="11.6" lengthAdjust="spacingAndGlyphs">W</text>
<path d="M357.4 15.6 l3.6 3.3 l3.6 -3.3" fill="none" stroke="#131722" stroke-width="1.15"/>
<rect x="375" y="6" width="1" height="22" fill="#e0e3eb" shape-rendering="crispEdges"/>
<g fill="none" stroke="#5b22f0" stroke-width="1" shape-rendering="crispEdges"><path d="M393.5 7 v3.5 M393.5 23.5 v3.5 M401.5 10 v3 M401.5 20.5 v3"/><rect x="391.5" y="10.5" width="4" height="13"/><rect x="399.5" y="13.5" width="4" height="7"/></g>
<g fill="none" stroke="#131722" stroke-width="1" shape-rendering="crispEdges"><path d="M423.5 7 v3.5 M423.5 22.5 v3.5 M431.5 10 v3 M431.5 20.5 v3"/><rect x="421.5" y="10.5" width="4" height="12" fill="#777"/><rect x="429.5" y="13.5" width="4" height="7"/></g>
<path d="M446.2 23.9 L453.2 15.1 L458.8 20.4 L468 10.1" fill="none" stroke="#131722" stroke-width="1.2"/>
<path d="M480 15.6 l3.6 3.3 l3.6 -3.3" fill="none" stroke="#131722" stroke-width="1.15"/>
<rect x="498" y="6" width="1" height="22" fill="#e0e3eb" shape-rendering="crispEdges"/>
<path d="M514.5 25.5 V22.2 H519.5 V19.5 H525 V16 H530.5 V25.5 Z M519.5 22 V25.5 M525 19.5 V25.5" fill="none" stroke="#131722" stroke-width="1.1"/>
<path d="M514.1 14.1 L519.9 9.7 L524.2 12.8 L530.9 8.3" fill="none" stroke="#131722" stroke-width="1.1"/>
<text x="538.6" y="21.9" font-size="14" fill="#131722" textLength="61.4" lengthAdjust="spacingAndGlyphs">Indicators</text>
<path d="M616.2 15.6 l3.6 3.3 l3.6 -3.3" fill="none" stroke="#131722" stroke-width="1.15"/>
<rect x="641.5" y="9.9" width="6" height="6" rx="1.6" fill="none" stroke="#131722" stroke-width="1.1"/>
<rect x="650.5" y="9.9" width="6" height="6" rx="1.6" fill="none" stroke="#131722" stroke-width="1.1"/>
<rect x="641.5" y="18.6" width="6" height="6" rx="1.6" fill="none" stroke="#131722" stroke-width="1.1"/>
<rect x="650.5" y="18.6" width="6" height="6" rx="1.6" fill="none" stroke="#131722" stroke-width="1.1"/>
<rect x="672" y="6" width="1" height="22" fill="#e0e3eb" shape-rendering="crispEdges"/>
<path d="M699.5 25 A8.3 8.3 0 1 1 703.7 18.4" fill="none" stroke="#131722" stroke-width="1.1"/>
<path d="M686.8 13.6 A4.2 4.2 0 0 1 692.6 9.2 M698.4 9.2 A4.2 4.2 0 0 1 704.4 13.6" fill="none" stroke="#131722" stroke-width="1.1"/>
<path d="M695.5 12.6 V17.3 H692.6" fill="none" stroke="#131722" stroke-width="1.1"/>
<path d="M697.2 23.2 h8.4 M701.4 19 v8.4" fill="none" stroke="#131722" stroke-width="1.1"/>
<text x="712.6" y="21.9" font-size="14" fill="#131722" textLength="29.6" lengthAdjust="spacingAndGlyphs">Alert</text>
<path d="M770.6 12.8 V21.8 L764.8 17.3 Z M778.8 12.8 V21.8 L773 17.3 Z" fill="none" stroke="#131722" stroke-width="1.1" stroke-linejoin="round"/>
<text x="787.4" y="21.9" font-size="14" fill="#131722" textLength="40.8" lengthAdjust="spacingAndGlyphs">Replay</text>
<rect x="842" y="6" width="1" height="22" fill="#e0e3eb" shape-rendering="crispEdges"/>
<path d="M863 12.4 L859.3 16 L863 19.6 M859.5 16 H868 Q871.8 16 871.8 21.8" fill="none" stroke="#131722" stroke-width="1.1"/>
<path d="M906 12.4 L909.7 16 L906 19.6 M909.5 16 H901 Q897.2 16 897.2 21.8" fill="none" stroke="#b2b5be" stroke-width="1.1"/>
<rect x="0" y="863" width="1487" height="66" fill="#fff" opacity="0"/>
<rect x="0" y="891" width="1487" height="1" fill="#e0e3eb" shape-rendering="crispEdges"/>
<text x="13.3" y="916" font-size="14" fill="#131722" textLength="16.5" lengthAdjust="spacingAndGlyphs">1D</text>
<text x="42.5" y="916" font-size="14" fill="#131722" textLength="16.5" lengthAdjust="spacingAndGlyphs">5D</text>
<text x="72" y="916" font-size="14" fill="#131722" textLength="19" lengthAdjust="spacingAndGlyphs">1M</text>
<text x="103.4" y="916" font-size="14" fill="#131722" textLength="19.5" lengthAdjust="spacingAndGlyphs">3M</text>
<text x="135.3" y="916" font-size="14" fill="#131722" textLength="19.6" lengthAdjust="spacingAndGlyphs">6M</text>
<text x="167.8" y="916" font-size="14" fill="#131722" textLength="25.1" lengthAdjust="spacingAndGlyphs">YTD</text>
<text x="205.5" y="916" font-size="14" fill="#131722" textLength="16.0" lengthAdjust="spacingAndGlyphs">1Y</text>
<text x="234.2" y="916" font-size="14" fill="#131722" textLength="16.2" lengthAdjust="spacingAndGlyphs">5Y</text>
<text x="262" y="916" font-size="14" fill="#131722" textLength="15.9" lengthAdjust="spacingAndGlyphs">All</text>
<rect x="288" y="900" width="1" height="22" fill="#e0e3eb" shape-rendering="crispEdges"/>
<path d="M306 902.8 H318 a2 2 0 0 1 2 2 V916.5 a2 2 0 0 1 -2 2 H311.5 M304 909 V904.8 a2 2 0 0 1 2 -2 M304 907.3 H320 M308.3 900.6 V904 M315.7 900.6 V904" fill="none" stroke="#131722" stroke-width="1.1"/>
<path d="M302 915 H309.5 M306.6 912 L309.6 915 L306.6 918" fill="none" stroke="#131722" stroke-width="1.1"/>
<text x="1365" y="916" font-size="14.8" fill="#131722" textLength="109.2" lengthAdjust="spacingAndGlyphs">12:09:50 (UTC+3)</text>
<rect x="1484" y="900" width="1" height="22" fill="#e0e3eb" shape-rendering="crispEdges"/>
<defs><filter id="sh" x="-5%" y="-30%" width="110%" height="160%"><feDropShadow dx="0" dy="0.5" stdDeviation="2.4" flood-color="#2a2e55" flood-opacity="0.5"/></filter></defs>
<path d="M534.2 945 V905 a5.8 5.8 0 0 1 5.8 -5.8 H932 a5.8 5.8 0 0 1 5.8 5.8 V945 Z" fill="#fff" filter="url(#sh)"/>
<rect x="542" y="912" width="2" height="2" fill="#aeaec3" shape-rendering="crispEdges"/>
<rect x="542" y="917" width="2" height="2" fill="#aeaec3" shape-rendering="crispEdges"/>
<rect x="542" y="922" width="2" height="2" fill="#aeaec3" shape-rendering="crispEdges"/>
<rect x="548" y="912" width="2" height="2" fill="#aeaec3" shape-rendering="crispEdges"/>
<rect x="548" y="917" width="2" height="2" fill="#aeaec3" shape-rendering="crispEdges"/>
<rect x="548" y="922" width="2" height="2" fill="#aeaec3" shape-rendering="crispEdges"/>
<path d="M568.1 926.4 L585.5 909.4" fill="none" stroke="#131722" stroke-width="1.2"/>
<circle cx="568.1" cy="926.4" r="2.1" fill="#fff" stroke="#131722" stroke-width="1.1"/>
<circle cx="585.5" cy="909.4" r="2.1" fill="#fff" stroke="#131722" stroke-width="1.1"/>
<path d="M604.2 908.4 H626" fill="none" stroke="#131722" stroke-width="1.2"/>
<path d="M604.2 914.4 H626" fill="none" stroke="#131722" stroke-width="1.2"/>
<path d="M604.2 920.4 H626" fill="none" stroke="#131722" stroke-width="1.2"/>
<path d="M604.2 926.4 H626" fill="none" stroke="#131722" stroke-width="1.2"/>
<circle cx="625.6" cy="914.4" r="2.1" fill="#fff" stroke="#131722" stroke-width="1.1"/>
<circle cx="604.4" cy="926.4" r="2.1" fill="#fff" stroke="#131722" stroke-width="1.1"/>
<path d="M654.7 907.3 L648.3 913.9 L658.5 924.7 L665.2 918.1 M648.3 913.9 Q646.2 917 646.6 919.6 L653.5 926.5 Q656.2 926.2 658.5 924.7 M646.9 919.9 L641.8 925.9 L648.5 928.4 L652.2 925.3" fill="none" stroke="#131722" stroke-width="1.2" stroke-linejoin="round" stroke-linecap="round"/>
<path d="M680 918.5 H688 M695 918.5 H703 M691.5 907 V915.4 M691.5 921.8 V930" fill="none" stroke="#5b22f0" stroke-width="1.2"/>
<path d="M719.3 918.5 H740" fill="none" stroke="#131722" stroke-width="1.2"/>
<circle cx="729.4" cy="918.5" r="2.1" fill="#fff" stroke="#131722" stroke-width="1.1"/>
<path d="M759.2 918.5 H778" fill="none" stroke="#131722" stroke-width="1.2"/>
<circle cx="759.2" cy="918.5" r="2.1" fill="#fff" stroke="#131722" stroke-width="1.1"/>
<rect x="796.4" y="909.4" width="17.2" height="17" fill="none" stroke="#131722" stroke-width="1.2"/>
<circle cx="796.4" cy="909.4" r="2.1" fill="#fff" stroke="#131722" stroke-width="1.1"/>
<circle cx="796.4" cy="926.4" r="2.1" fill="#fff" stroke="#131722" stroke-width="1.1"/>
<circle cx="813.6" cy="909.4" r="2.1" fill="#fff" stroke="#131722" stroke-width="1.1"/>
<circle cx="813.6" cy="926.4" r="2.1" fill="#fff" stroke="#131722" stroke-width="1.1"/>
<path d="M834.5 927 V909.4 H852.6 V922.5 H839.5 Z" fill="none" stroke="#131722" stroke-width="1.2" stroke-linejoin="round"/>
<path d="M868.4 922.8 L876.6 914.7 L883.5 921.4 L893.6 911.7 M888.2 911.4 H893.8 V917" fill="none" stroke="#131722" stroke-width="1.2"/>
<circle cx="876.6" cy="914.7" r="2.1" fill="#fff" stroke="#131722" stroke-width="1.1"/>
<circle cx="883.5" cy="921.4" r="2.1" fill="#fff" stroke="#131722" stroke-width="1.1"/>
<path d="M906.3 922.6 H932 M908.6 927.6 L911.8 914.8 L915.5 922.6 L919.5 908.4 L923.6 922.6 L927.4 914.8 L930.4 927.6" fill="none" stroke="#131722" stroke-width="1.1"/>
<circle cx="908.6" cy="927.6" r="1.8" fill="#fff" stroke="#131722" stroke-width="1.1"/>
<circle cx="911.8" cy="914.8" r="1.8" fill="#fff" stroke="#131722" stroke-width="1.1"/>
<circle cx="915.5" cy="922.6" r="1.8" fill="#fff" stroke="#131722" stroke-width="1.1"/>
<circle cx="919.5" cy="908.4" r="1.8" fill="#fff" stroke="#131722" stroke-width="1.1"/>
<circle cx="923.6" cy="922.6" r="1.8" fill="#fff" stroke="#131722" stroke-width="1.1"/>
<circle cx="927.4" cy="914.8" r="1.8" fill="#fff" stroke="#131722" stroke-width="1.1"/>
<circle cx="930.4" cy="927.6" r="1.8" fill="#fff" stroke="#131722" stroke-width="1.1"/>
</svg>
</body></html>
